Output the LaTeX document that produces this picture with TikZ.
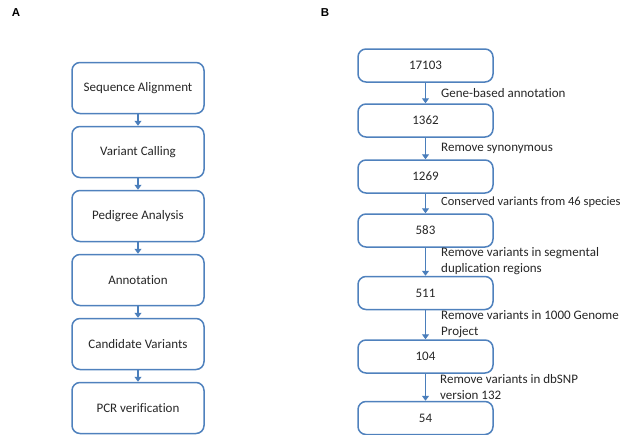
\documentclass[tikz,border=0pt]{standalone}
\usepackage{fontspec}
\setmainfont[Ligatures=NoCommon]{Carlito}
\newfontfamily\panelfont{Liberation Sans}
\usetikzlibrary{arrows.meta}
\definecolor{boxblue}{RGB}{79,129,189}
\definecolor{arrowblue}{RGB}{74,126,187}
\definecolor{textgray}{RGB}{38,38,38}

\begin{document}
\begin{tikzpicture}[x=1pt,y=-1pt,
		stepbox/.style={draw=boxblue, line width=1.5pt, rounded corners=8pt, minimum width=132pt, minimum height=51pt, inner sep=0pt, text=textgray, font=\fontsize{13}{15}\selectfont},
		countbox/.style={stepbox, minimum width=135pt, minimum height=33pt},
		flow/.style={draw=arrowblue, line width=1.2pt, -{Triangle[length=5pt,width=7pt]}},
		note/.style={anchor=west, align=left, inner sep=0pt, text=textgray, font=\fontsize{13}{16}\selectfont},
		panel/.style={font=\panelfont\bfseries\fontsize{11.5}{13}\selectfont}]
	\useasboundingbox (0,0) rectangle (624,434);
	
	% Panel letters
	\node[panel] (lblA) at (16,13) {A};
	\node[panel] (lblB) at (325,13) {B};
	
	% Draw the pipeline boxes (A)
	\node[stepbox] (align) at (138,88) {Sequence Alignment};
	\node[stepbox] (call) at (138,152) {Variant Calling};
	\node[stepbox] (pedigree) at (138,216) {Pedigree Analysis};
	\node[stepbox] (annot) at (138,280) {Annotation};
	\node[stepbox] (cand) at (138,344) {Candidate Variants};
	\node[stepbox] (pcr) at (138,408) {PCR verification};
	
	\draw[flow] (align) -- (call);
	\draw[flow] (call) -- (pedigree);
	\draw[flow] (pedigree) -- (annot);
	\draw[flow] (annot) -- (cand);
	\draw[flow] (cand) -- (pcr);
	
	% Draw the filtering boxes (B)
	\node[countbox] (n17103) at (425.5,65.5) {17103};
	\node[countbox] (n1362) at (425.5,120.5) {1362};
	\node[countbox] (n1269) at (425.5,176.5) {1269};
	\node[countbox] (n583) at (425.5,230.5) {583};
	\node[countbox] (n511) at (425.5,293) {511};
	\node[countbox] (n104) at (425.5,356.5) {104};
	\node[countbox] (n54) at (425.5,418) {54};
	
	\draw[flow] (n17103) -- (n1362);
	\draw[flow] (n1362) -- (n1269);
	\draw[flow] (n1269) -- (n583);
	\draw[flow] (n583) -- (n511);
	\draw[flow] (n511) -- (n104);
	\draw[flow] (n104) -- (n54);
	
	% Filter step labels
	\node[note] (f1) at (441,93) {Gene-based annotation};
	\node[note] (f2) at (441,148) {Remove synonymous};
	\node[note, font=\fontsize{12.5}{16}\selectfont] (f3) at (441,202) {Conserved variants from 46 species};
	\node[note] (f4) at (441,261) {Remove variants in segmental\\duplication regions};
	\node[note] (f5) at (441,324) {Remove variants in 1000 Genome\\Project};
	\node[note] (f6) at (440,387) {Remove variants in dbSNP\\version 132};
\end{tikzpicture}
\end{document}
